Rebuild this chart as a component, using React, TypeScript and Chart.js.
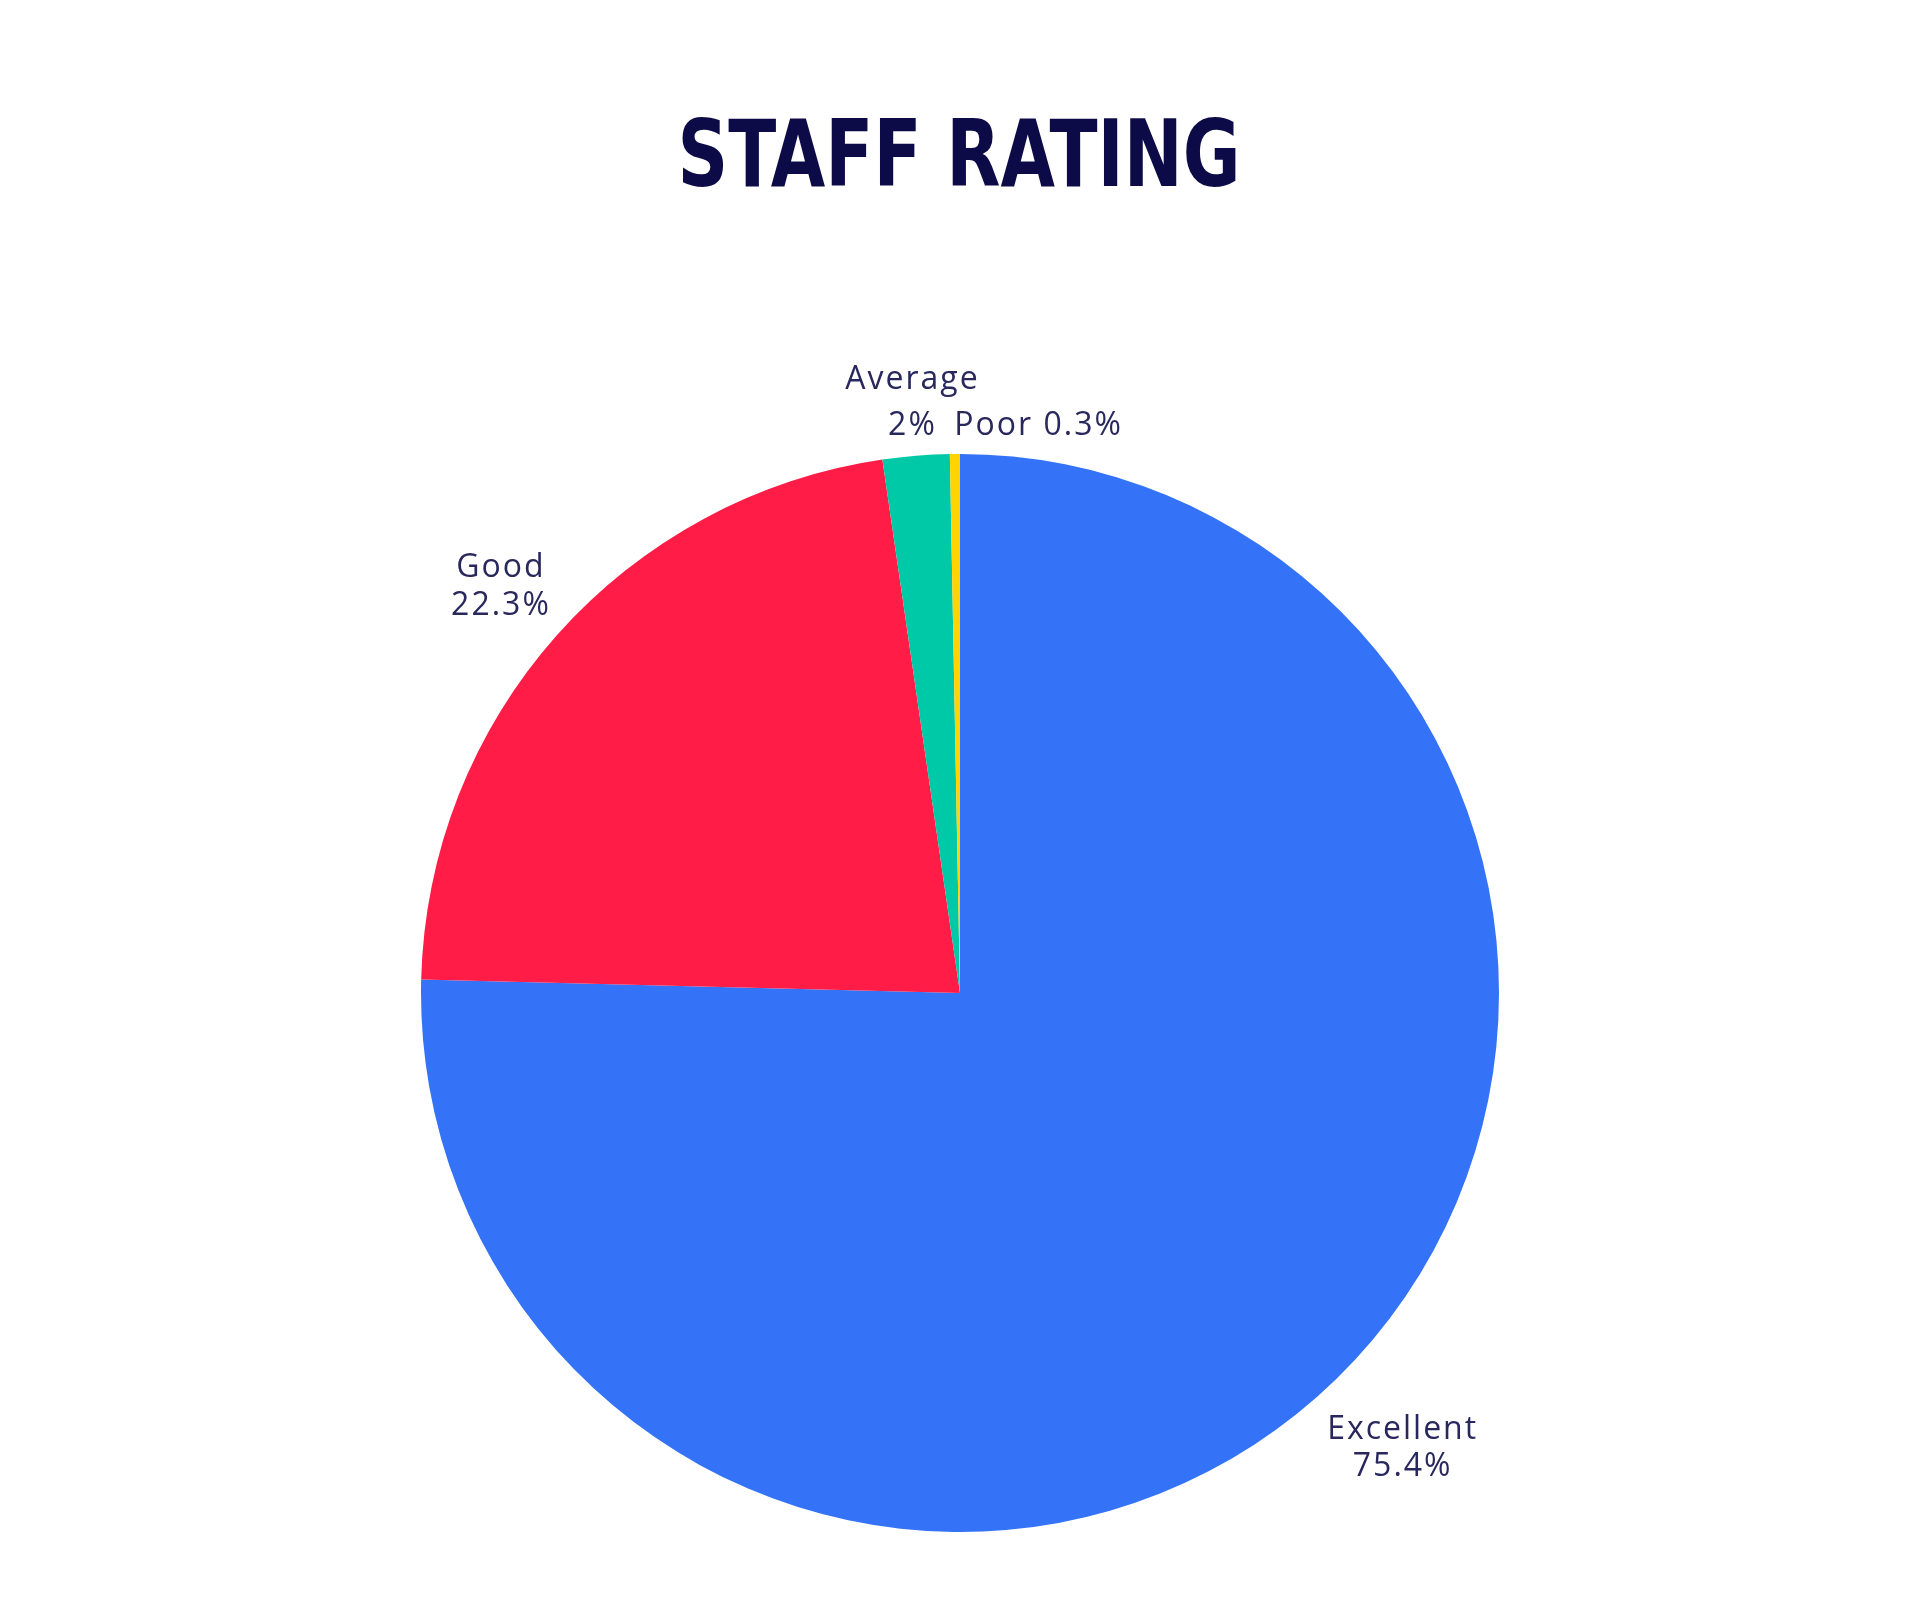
import React, { useEffect, useRef } from "react";
import { Chart, registerables } from "chart.js";

Chart.register(...registerables);

const categories = ["Excellent", "Good", "Average", "Poor"];
const values = [75.4, 22.3, 2, 0.3];
const sliceColors = ["#3473F8", "#FF1D47", "#00C9A8", "#FFD400"];
const labelLines = [["Excellent", "75.4%"], ["Good", "22.3%"], ["Average", "2%"], ["Poor 0.3%"]];
const titleText = "STAFF RATING";

const LABEL_FONT = "32px 'Open Sans', 'Noto Sans', sans-serif";
const LABEL_COLOR = "#29285d";
const LABEL_CAP = 23;
// radial distance beyond the pie edge, horizontal nudge and line gap for each label
const labelExtra = [93.6, 76, 55.5, 30.5];
const labelNudgeX = [0, 0, 0, 83];
const labelGap = [37, 38, 46, 0];

const titlePlugin = {
  id: "condensedTitle",
  afterDraw(chart: any) {
    const ctx = chart.ctx;
    ctx.save();
    ctx.font = "bold 92px 'DejaVu Sans', sans-serif";
    ctx.fillStyle = "#0c0b47";
    ctx.textAlign = "center";
    ctx.textBaseline = "alphabetic";
    ctx.translate(chart.width / 2 - 1, 178);
    ctx.scale(0.766, 1);
    ctx.fillText(titleText, 0, 0);
    ctx.restore();
  },
};

const outsideLabels = {
  id: "outsideLabels",
  afterDatasetsDraw(chart: any) {
    const ctx = chart.ctx;
    const meta = chart.getDatasetMeta(0);
    ctx.save();
    ctx.font = LABEL_FONT;
    ctx.fillStyle = LABEL_COLOR;
    ctx.textAlign = "center";
    ctx.textBaseline = "alphabetic";
    try {
      (ctx as any).letterSpacing = "2px";
    } catch (e) {}
    meta.data.forEach((arc: any, i: number) => {
      const { x, y, startAngle, endAngle, outerRadius } = arc.getProps(
        ["x", "y", "startAngle", "endAngle", "outerRadius"],
        true
      );
      const mid = (startAngle + endAngle) / 2;
      const r = outerRadius + labelExtra[i];
      const px = x + Math.cos(mid) * r + labelNudgeX[i];
      const py = y + Math.sin(mid) * r;
      const lines = labelLines[i];
      const firstMid = py - ((lines.length - 1) * labelGap[i]) / 2;
      lines.forEach((t, k) => ctx.fillText(t, px + 1, firstMid + k * labelGap[i] + LABEL_CAP / 2));
    });
    ctx.restore();
  },
};

export default function App() {
  const ref = useRef<HTMLCanvasElement>(null);
  useEffect(() => {
    if (!ref.current) return;
    const chart = new Chart(ref.current, {
      type: "pie",
      data: {
        labels: categories,
        datasets: [
          {
            data: values,
            backgroundColor: sliceColors,
            borderWidth: 0,
            hoverOffset: 0,
          },
        ],
      },
      options: {
        responsive: false,
        devicePixelRatio: 1,
        animation: false,
        layout: { padding: { top: 446, bottom: 60, left: 0, right: 0 } },
        plugins: {
          legend: { display: false },
          tooltip: { enabled: false },
          title: { display: false },
        },
      },
      plugins: [outsideLabels, titlePlugin],
    });
    return () => chart.destroy();
  }, []);
  return <canvas ref={ref} width={1904} height={1584} />;
}
